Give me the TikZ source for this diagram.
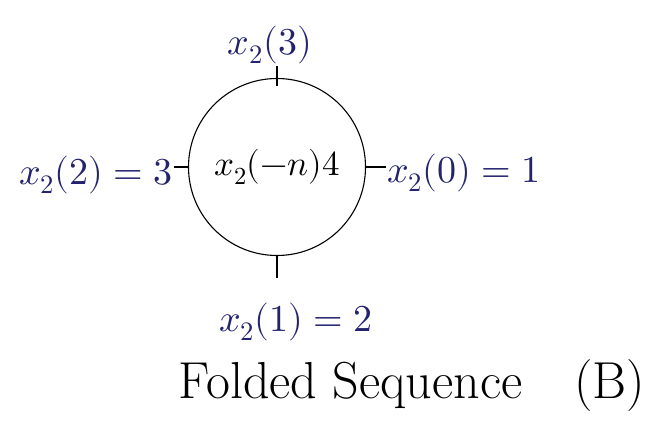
\documentclass[tikz,border=0pt]{standalone}
\usepackage{amsmath}
\usepackage{unicode-math}
\setmathfont{Latin Modern Math}
\usepackage{tikz}
\usetikzlibrary{positioning,calc}
\definecolor{ink}{RGB}{35,35,110}

\begin{document}
\begin{tikzpicture}[x=1pt,y=-1pt,
    lbl/.style={font=\fontsize{38}{44}\selectfont, text=ink, inner sep=1pt},
    spoke/.style={line width=1.4pt}
]
\useasboundingbox (0,0) rectangle (655,435);
\node[circle, draw, line width=1.1pt, minimum size=177pt, font=\fontsize{35}{40}\selectfont] (ring) at (277,167) {$x_2(-n)4$};

\node[lbl] (top) at (270,45) {$x_2(3)$};
\node[lbl, anchor=east] (left) at (174,175) {$x_2(2)=3$};
\node[lbl, anchor=west] (right) at (386,173) {$x_2(0)=1$};
\node[lbl] (bot) at (296,322) {$x_2(1)=2$};
\node[font=\fontsize{52}{60}\selectfont, inner sep=1pt] (cap) at (412,386) {Folded Sequence\quad(B)};

\coordinate (nout) at ($(ring.north)+(0,-12)$);
\coordinate (nin) at ($(ring.north)+(0,8)$);
\coordinate (sout) at ($(ring.south)+(0,22)$);
\draw[spoke] (nout) -- (nin);
\draw[spoke] (ring.south) -- (sout);
\draw[spoke] (ring.west -| left.east) -- (ring.west);
\draw[spoke] (ring.east) -- (ring.east -| right.west);
\end{tikzpicture}
\end{document}
